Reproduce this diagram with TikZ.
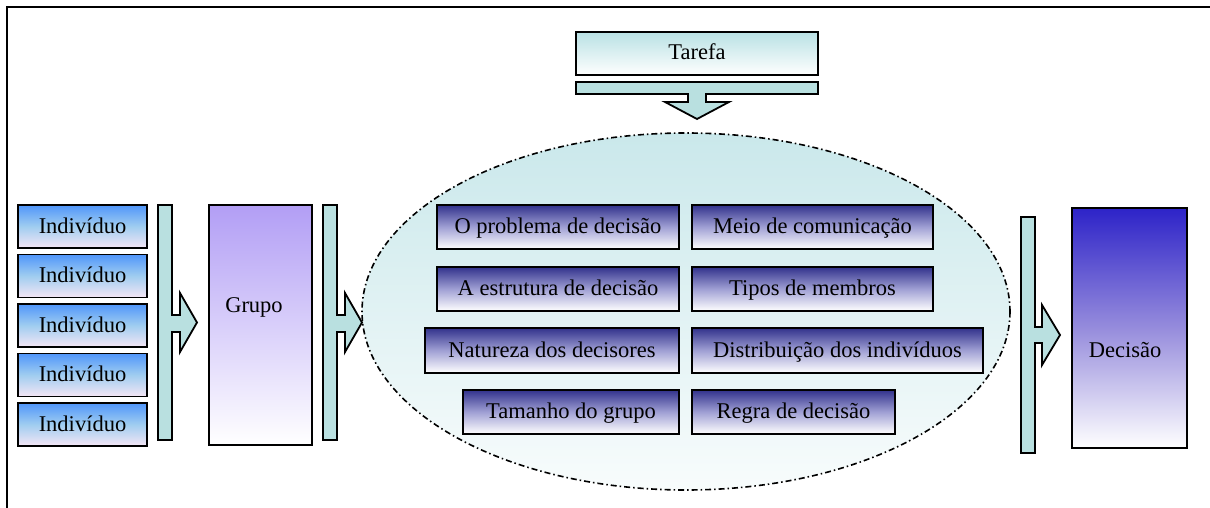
\documentclass[tikz,border=0pt]{standalone}
\usepackage{fontspec}
\setmainfont{Liberation Serif}
\begin{document}
\begin{tikzpicture}[x=1pt,y=-1pt,
  txt/.style={font=\fontsize{22.5}{27}\selectfont},
  box/.style={draw=black,line width=1.8pt,inner sep=0pt,txt,text height=16.5pt,text depth=3.5pt},
  indiv/.style={box,minimum width=129pt,minimum height=43pt,top color=indtop,bottom color=indbot,middle color=indmid},
  factor/.style={box,minimum height=44pt,top color=factop,bottom color=white,middle color=facmid},
  blockarrow/.style={draw=black,line width=1.8pt,fill=barfill,line join=miter},
  dashdot/.style={draw=black,line width=1.6pt,dash pattern=on 6pt off 3pt on 1.5pt off 3pt}
]
\definecolor{indtop}{RGB}{80,150,250}
\definecolor{indmid}{RGB}{160,205,240}
\definecolor{indbot}{RGB}{245,230,245}
\definecolor{grptop}{RGB}{178,158,245}
\definecolor{factop}{RGB}{50,50,140}
\definecolor{facmid}{RGB}{160,160,212}
\definecolor{dectop}{RGB}{45,35,200}
\definecolor{decmid}{RGB}{150,140,220}
\definecolor{tartop}{RGB}{185,225,228}
\definecolor{barfill}{RGB}{185,224,224}
\definecolor{elltop}{RGB}{202,232,235}
\definecolor{ellbot}{RGB}{248,252,252}
\useasboundingbox (0,0) rectangle (1210,508);
% frame
\draw[line width=2.5pt] (7,508) -- (7,7) -- (1210,7);
% ellipse
\path[dashdot,top color=elltop,bottom color=ellbot] (686,311.5) ellipse [x radius=324, y radius=178.5];
% individuals
\node[indiv] (i1) at (82.5,226.5) {Indivíduo};
\node[indiv] (i2) at (82.5,276) {Indivíduo};
\node[indiv] (i3) at (82.5,325.5) {Indivíduo};
\node[indiv] (i4) at (82.5,375) {Indivíduo};
\node[indiv] (i5) at (82.5,424.5) {Indivíduo};
% arrow 1
\draw[blockarrow] (158,205) -- (172,205) -- (172,315) -- (180,315) -- (180,293) -- (197,322.5) -- (180,352) -- (180,332) -- (172,332) -- (172,440) -- (158,440) -- cycle;
% group
\node[box,minimum width=103pt,minimum height=240pt,top color=grptop,bottom color=white,
  label={[xshift=-6.5pt,yshift=18pt,txt]center:Grupo}] (grupo) at (260.5,325) {};
% arrow 2
\draw[blockarrow] (323,205) -- (337,205) -- (337,315) -- (345,315) -- (345,293) -- (362,322.5) -- (345,352) -- (345,332) -- (337,332) -- (337,440) -- (323,440) -- cycle;
% task
\node[box,minimum width=242pt,minimum height=43pt,top color=tartop,bottom color=white] (tarefa) at (697,53.5) {Tarefa};
\draw[blockarrow] (576,82) -- (818,82) -- (818,94) -- (706,94) -- (706,102) -- (729,102) -- (697,119) -- (665,102) -- (688,102) -- (688,94) -- (576,94) -- cycle;
% factors
\node[factor,minimum width=242pt] (f1) at (558,227) {O problema de decisão};
\node[factor,minimum width=241pt] (f2) at (812.5,227) {Meio de comunicação};
\node[factor,minimum width=242pt] (f3) at (558,289) {A estrutura de decisão};
\node[factor,minimum width=241pt] (f4) at (812.5,289) {Tipos de membros};
\node[factor,minimum width=254pt,minimum height=45pt] (f5) at (552,350.5) {Natureza dos decisores};
\node[factor,minimum width=291pt,minimum height=45pt] (f6) at (837.5,350.5) {Distribuição dos indivíduos};
\node[factor,minimum width=216pt] (f7) at (571,412) {Tamanho do grupo};
\node[factor,minimum width=203pt] (f8) at (793.5,412) {Regra de decisão};
% arrow 3
\draw[blockarrow] (1021,217) -- (1035,217) -- (1035,327) -- (1042,327) -- (1042,305) -- (1060,335) -- (1042,365) -- (1042,343) -- (1035,343) -- (1035,453) -- (1021,453) -- cycle;
% decision
\node[box,minimum width=115pt,minimum height=240pt,top color=dectop,bottom color=white,middle color=decmid,
  label={[xshift=-4.5pt,yshift=-22pt,txt]center:Decisão}] (decisao) at (1129.5,328) {};
\end{tikzpicture}
\end{document}
